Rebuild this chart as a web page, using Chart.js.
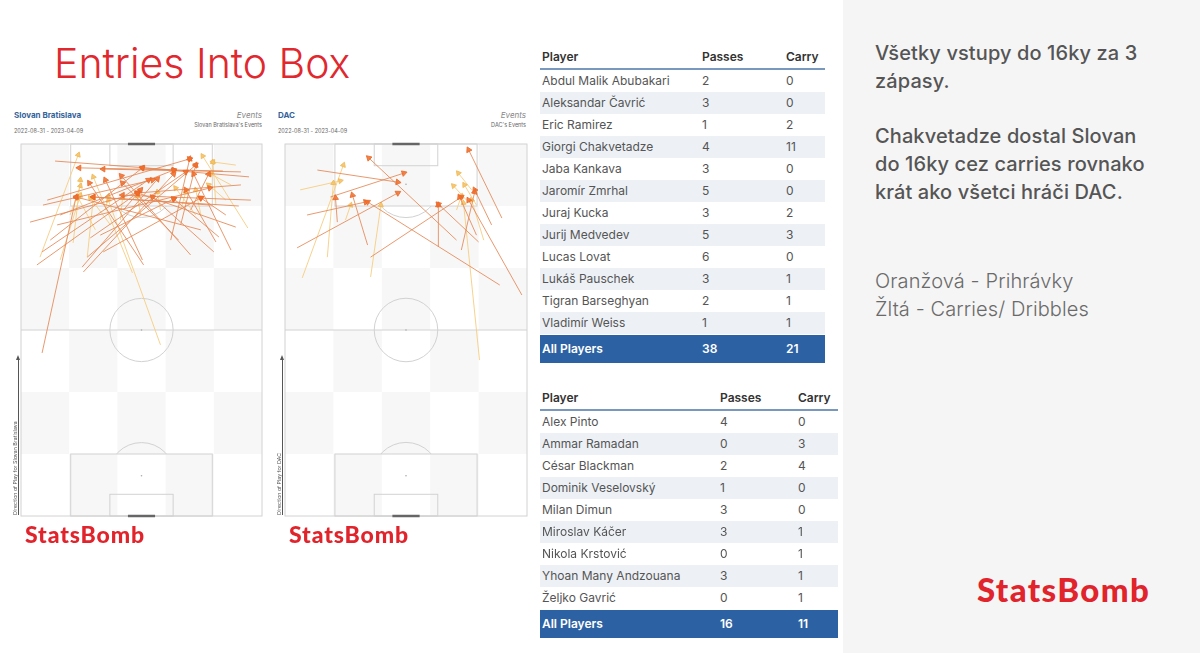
<!DOCTYPE html>
<html lang="sk">
<head>
<meta charset="UTF-8">
<script src="https://cdn.jsdelivr.net/npm/chart.js@4"></script>
<title>Entries Into Box</title>
<style>
  body { margin: 0; width: 1200px; height: 653px; position: relative; overflow: hidden; background: #fff; font-family: Inter, "Noto Sans", sans-serif; }
  .abs { position: absolute; }
  #side { left: 843px; top: 0; width: 357px; height: 653px; background: #f5f5f5; }
  #title { left: 54px; top: 38px; font-size: 41px; font-weight: 300; color: #e0282e; white-space: nowrap; }
  .team { font-size: 8px; font-weight: 700; color: #34639b; }
  .date { font-size: 5.5px; color: #666; }
  .ev { font-size: 8px; font-style: italic; color: #888; text-align: right; }
  .ev2 { font-size: 5.5px; color: #666; text-align: right; }
  .dir { font-size: 5.3px; color: #555; transform-origin: 0 0; transform: rotate(-90deg); white-space: nowrap; }
  .dirline { width: 0; border-left: 1px solid #555; }
  .dirline:before { content: ""; position: absolute; left: -3px; top: -4px; border-left: 2.5px solid transparent; border-right: 2.5px solid transparent; border-bottom: 5px solid #555; }
  .sb { font-family: Lato, sans-serif; font-weight: 900; color: #e1232b; white-space: nowrap; }
  .tbl { font-size: 12px; color: #555; }
  .tbl .hd { height: 22px; line-height: 22px; font-weight: 600; color: #333; border-bottom: 2px solid #7898bd; position: relative; }
  .tbl .row { height: 22px; line-height: 22px; position: relative; white-space: nowrap; }
  .tbl .row.alt { background: #edf1f6; }
  .tbl .tot { height: 28px; line-height: 28px; background: #2c62a4; color: #fff; font-weight: 600; position: relative; margin-top: 1px; }
  .tbl span { position: absolute; top: 0; }
  .note { left: 875px; font-size: 20px; color: #555; line-height: 28px; white-space: nowrap; letter-spacing: 0.1px; }
</style>
</head>
<body>
<div id="side" class="abs"></div>
<div id="title" class="abs">Entries Into Box</div>

<div class="abs team" style="left:14px;top:110px">Slovan Bratislava</div>
<div class="abs date" style="left:14px;top:128px">2022-08-31 - 2023-04-09</div>
<div class="abs ev" style="left:150px;top:110px;width:112px">Events</div>
<div class="abs ev2" style="left:150px;top:122px;width:112px">Slovan Bratislava's Events</div>

<div class="abs team" style="left:278px;top:110px">DAC</div>
<div class="abs date" style="left:278px;top:128px">2022-08-31 - 2023-04-09</div>
<div class="abs ev" style="left:414px;top:110px;width:112px">Events</div>
<div class="abs ev2" style="left:414px;top:122px;width:112px">DAC's Events</div>

<canvas id="slovanPitch" class="abs" style="left:16px;top:139px"></canvas>
<canvas id="dacPitch" class="abs" style="left:280px;top:139px"></canvas>

<div class="abs dirline" style="left:18px;top:359px;height:156px"></div>
<div class="abs dir" style="left:12px;top:515px">Direction of Play for Slovan Bratislava</div>
<div class="abs dirline" style="left:282px;top:359px;height:156px"></div>
<div class="abs dir" style="left:276px;top:515px">Direction of Play for DAC</div>

<div class="abs sb" style="left:25px;top:520px;font-size:23px;letter-spacing:0.9px">StatsBomb</div>
<div class="abs sb" style="left:289px;top:520px;font-size:23px;letter-spacing:0.9px">StatsBomb</div>
<div class="abs sb" style="left:977px;top:569px;font-size:33px;letter-spacing:1.4px">StatsBomb</div>

<div id="tbl1" class="abs tbl" style="left:540px;top:46px;width:285px"></div>
<div id="tbl2" class="abs tbl" style="left:540px;top:387px;width:298px"></div>

<div class="abs note" style="top:39px;font-weight:500">Všetky vstupy do 16ky za 3<br>zápasy.</div>
<div class="abs note" style="top:122px;font-weight:500">Chakvetadze dostal Slovan<br>do 16ky cez carries rovnako<br>krát ako všetci hráči DAC.</div>
<div class="abs note" style="top:267px;font-weight:300;color:#6a6a6a">Oranžová - Prihrávky<br>Žltá - Carries/ Dribbles</div>

<script>
// table data
const slovanPlayers = ['Abdul Malik Abubakari', 'Aleksandar Čavrić', 'Eric Ramirez', 'Giorgi Chakvetadze', 'Jaba Kankava', 'Jaromír Zmrhal', 'Juraj Kucka', 'Jurij Medvedev', 'Lucas Lovat', 'Lukáš Pauschek', 'Tigran Barseghyan', 'Vladimír Weiss'];
const slovanPasses = [2, 3, 1, 4, 3, 5, 3, 5, 6, 3, 2, 1];
const slovanCarries = [0, 0, 2, 11, 0, 0, 2, 3, 0, 1, 1, 1];
const dacPlayers = ['Alex Pinto', 'Ammar Ramadan', 'César Blackman', 'Dominik Veselovský', 'Milan Dimun', 'Miroslav Káčer', 'Nikola Krstović', 'Yhoan Many Andzouana', 'Željko Gavrić'];
const dacPasses = [4, 0, 2, 1, 3, 3, 0, 3, 0];
const dacCarries = [0, 3, 4, 0, 0, 1, 1, 1, 1];

// arrows in pitch units: [startLength, startWidth, endLength, endWidth], pitch 120 x 80
const slovanPassArrows = [
  [114.5, 11.3, 111.6, 50.7], [109.4, 75.7, 112.3, 40.3], [111.0, 73.0, 111.9, 27.3], [111.3, 67.0, 112.3, 19.3],
  [94.8, 3.0, 104.2, 38.7], [100.3, 7.3, 108.4, 43.7], [101.9, 8.7, 115.2, 56.0], [85.2, 7.0, 108.4, 42.3],
  [81.0, 5.3, 104.2, 38.7], [78.7, 20.7, 110.3, 50.7], [80.3, 20.3, 108.7, 45.3], [83.5, 22.0, 113.2, 58.0],
  [89.7, 23.0, 111.0, 54.7], [81.0, 40.7, 107.4, 22.7], [82.6, 40.3, 108.4, 28.0], [84.2, 56.3, 109.7, 33.3],
  [89.0, 52.3, 107.4, 33.7], [85.2, 64.0, 102.9, 43.7], [93.2, 71.3, 104.2, 38.7], [100.0, 72.3, 102.9, 24.0],
  [90.0, 65.7, 102.3, 50.7], [88.4, 64.7, 105.2, 54.7], [98.7, 56.3, 110.3, 62.3], [98.7, 34.0, 105.2, 39.7],
  [85.2, 27.3, 102.6, 59.7], [52.6, 7.0, 102.9, 18.3], [93.9, 12.0, 105.8, 62.7], [85.8, 69.7, 110.3, 57.3],
  [92.3, 59.7, 102.9, 18.3], [101.9, 76.3, 103.5, 33.7], [89.0, 49.7, 115.2, 56.0], [97.1, 13.0, 111.6, 50.7],
  [106.8, 73.0, 104.2, 38.7], [90.6, 26.3, 102.3, 50.7], [97.1, 68.0, 102.6, 59.7], [89.0, 9.7, 112.3, 40.3],
  [93.9, 53.0, 113.2, 58.0], [100.3, 63.0, 102.9, 24.0]
];
const slovanCarryArrows = [
  [88.1, 17.3, 108.4, 19.7], [83.5, 6.3, 116.5, 19.0], [55.2, 46.3, 101.9, 29.0], [78.4, 37.0, 109.4, 24.0],
  [92.9, 75.3, 116.1, 60.3], [100.3, 64.7, 114.2, 63.7], [97.1, 58.0, 105.8, 51.3], [93.9, 29.7, 102.6, 23.0],
  [92.3, 24.7, 102.6, 19.0], [82.6, 13.0, 103.5, 19.7], [97.1, 39.7, 103.2, 38.7], [98.7, 28.0, 103.2, 29.0],
  [101.9, 68.0, 106.8, 62.3], [98.7, 53.0, 104.5, 54.7], [97.1, 59.7, 105.2, 58.0], [98.7, 46.3, 104.5, 45.3],
  [95.5, 33.0, 102.6, 33.7], [106.8, 69.7, 110.3, 63.0], [113.2, 71.3, 114.2, 63.7], [83.5, 22.0, 102.6, 24.0],
  [97.1, 16.3, 106.5, 19.7]
];
const dacPassArrows = [
  [111.6, 10.7, 107.7, 37.3], [89.0, 56.7, 115.5, 27.7], [96.1, 71.7, 118.1, 60.7], [102.9, 15.0, 110.6, 39.3],
  [97.1, 7.3, 101.3, 26.7], [86.5, 4.0, 104.2, 37.3], [87.4, 27.3, 103.5, 22.3], [94.8, 17.3, 102.6, 16.7],
  [83.5, 28.3, 102.9, 58.3], [86.8, 50.7, 100.3, 50.7], [74.5, 71.0, 101.3, 27.3], [71.3, 78.3, 101.9, 60.7],
  [88.4, 64.0, 100.6, 50.7], [93.9, 68.3, 105.2, 62.7], [90.6, 63.3, 102.9, 57.7], [85.8, 58.3, 104.5, 62.7]
];
const dacCarryArrows = [
  [76.8, 5.7, 113.2, 19.3], [83.5, 14.0, 107.4, 16.0], [77.1, 28.3, 100.3, 31.7], [50.3, 64.3, 101.0, 59.0],
  [105.2, 61.7, 110.6, 57.3], [101.9, 60.0, 106.5, 55.7], [100.3, 63.3, 106.8, 59.3], [95.5, 20.0, 100.3, 21.7],
  [89.0, 65.7, 101.9, 61.7], [105.2, 5.0, 108.1, 18.3], [98.7, 56.7, 103.2, 58.3]
];

function buildTable(id, players, passes, carries, col2, col3) {
  const el = document.getElementById(id);
  let html = '<div class="hd"><span style="left:2px">Player</span><span style="left:' + col2 + 'px">Passes</span><span style="left:' + col3 + 'px">Carry</span></div>';
  players.forEach((p, i) => {
    html += '<div class="row' + (i % 2 ? ' alt' : '') + '"><span style="left:2px">' + p + '</span><span style="left:' + col2 + 'px">' + passes[i] + '</span><span style="left:' + col3 + 'px">' + carries[i] + '</span></div>';
  });
  const sumP = passes.reduce((a, b) => a + b, 0);
  const sumC = carries.reduce((a, b) => a + b, 0);
  html += '<div class="tot"><span style="left:2px">All Players</span><span style="left:' + col2 + 'px">' + sumP + '</span><span style="left:' + col3 + 'px">' + sumC + '</span></div>';
  el.innerHTML = html;
}
buildTable('tbl1', slovanPlayers, slovanPasses, slovanCarries, 162, 246);
buildTable('tbl2', dacPlayers, dacPasses, dacCarries, 180, 258);

// pitch background + markings
const pitchPlugin = {
  id: 'pitch',
  beforeDatasetsDraw(chart) {
    const { ctx, chartArea: a, scales: { x, y } } = chart;
    const X = v => x.getPixelForValue(v), Y = v => y.getPixelForValue(v);
    const ux = X(1) - X(0);
    ctx.save();
    ctx.fillStyle = '#fff';
    ctx.fillRect(a.left, a.top, a.right - a.left, a.bottom - a.top);
    // checker cells 5 x 6
    ctx.fillStyle = '#f7f7f7';
    for (let r = 0; r < 6; r++) {
      for (let c = 0; c < 5; c++) {
        if ((r + c) % 2 === 0) {
          const x0 = X(c * 16), x1 = X((c + 1) * 16);
          const y0 = Y(120 - r * 20), y1 = Y(120 - (r + 1) * 20);
          ctx.fillRect(x0, y0, x1 - x0, y1 - y0);
        }
      }
    }
    ctx.strokeStyle = '#d2d2d2';
    ctx.lineWidth = 1;
    const rect = (w0, l0, w1, l1) => ctx.strokeRect(X(w0), Y(l1), X(w1) - X(w0), Y(l0) - Y(l1));
    rect(0, 0, 80, 120);
    ctx.beginPath(); ctx.moveTo(X(0), Y(60)); ctx.lineTo(X(80), Y(60)); ctx.stroke();
    ctx.beginPath(); ctx.arc(X(40), Y(60), 10.5 * ux, 0, Math.PI * 2); ctx.stroke();
    rect(16.5, 100, 63.5, 120); rect(29.5, 113, 50.5, 120);
    rect(16.5, 0, 63.5, 20); rect(29.5, 0, 50.5, 7);
    // D arcs
    ctx.save(); ctx.beginPath(); ctx.rect(a.left, a.top, a.right - a.left, Y(20) - a.top); ctx.clip();
    ctx.beginPath(); ctx.arc(X(40), Y(13), 11 * ux, 0, Math.PI * 2); ctx.stroke(); ctx.restore();
    ctx.save(); ctx.beginPath(); ctx.rect(a.left, Y(100), a.right - a.left, a.bottom - Y(100)); ctx.clip();
    ctx.beginPath(); ctx.arc(X(40), Y(107), 11 * ux, 0, Math.PI * 2); ctx.stroke(); ctx.restore();
    ctx.fillStyle = '#aaa';
    [60, 13, 107].forEach(l => { ctx.beginPath(); ctx.arc(X(40), Y(l), 0.8, 0, Math.PI * 2); ctx.fill(); });
    // goals
    ctx.strokeStyle = '#666'; ctx.lineWidth = 2.5;
    ctx.beginPath(); ctx.moveTo(X(35.5), Y(120)); ctx.lineTo(X(44.5), Y(120)); ctx.stroke();
    ctx.beginPath(); ctx.moveTo(X(35.5), Y(0)); ctx.lineTo(X(44.5), Y(0)); ctx.stroke();
    ctx.restore();
  }
};

function segments(arrows) {
  return arrows.flatMap(a => [{ x: a[1], y: a[0] }, { x: a[3], y: a[2] }, { x: a[3], y: null }]);
}
function heads(arrows) {
  return arrows.map(a => ({ x: a[3], y: a[2] }));
}
function headAngle(arrows) {
  return c => {
    const a = arrows[c.dataIndex];
    const sx = c.chart.scales.x, sy = c.chart.scales.y;
    if (!a || !sx || !sy) return 0;
    const dx = sx.getPixelForValue(a[3]) - sx.getPixelForValue(a[1]);
    const dy = sy.getPixelForValue(a[2]) - sy.getPixelForValue(a[0]);
    return Math.atan2(dx, -dy) * 180 / Math.PI;
  };
}

function drawPitch(canvasId, width, passArrows, carryArrows) {
  const cv = document.getElementById(canvasId);
  cv.width = width; cv.height = 382;
  cv.style.width = width + 'px'; cv.style.height = '382px';
  new Chart(cv.getContext('2d'), {
    type: 'scatter',
    data: {
      datasets: [
        {
          type: 'line', data: segments(carryArrows), borderColor: 'rgba(246,205,130,0.9)', borderWidth: 1,
          pointRadius: 0, spanGaps: false, order: 4
        },
        {
          type: 'scatter', data: heads(carryArrows), pointStyle: 'triangle', radius: 3,
          backgroundColor: 'rgba(245,195,100,0.9)', borderColor: 'rgba(240,185,90,0.9)', borderWidth: 1,
          rotation: headAngle(carryArrows), order: 3
        },
        {
          type: 'line', data: segments(passArrows), borderColor: 'rgba(228,135,85,0.85)', borderWidth: 1,
          pointRadius: 0, spanGaps: false, order: 2
        },
        {
          type: 'scatter', data: heads(passArrows), pointStyle: 'triangle', radius: 3.3,
          backgroundColor: 'rgba(238,110,45,0.85)', borderColor: 'rgba(235,105,40,0.85)', borderWidth: 1,
          rotation: headAngle(passArrows), order: 1
        }
      ]
    },
    options: {
      responsive: false,
      animation: false,
      layout: { padding: 5 },
      plugins: { legend: { display: false }, tooltip: { enabled: false } },
      scales: {
        x: { type: 'linear', min: 0, max: 80, display: false },
        y: { type: 'linear', min: 0, max: 120, display: false }
      }
    },
    plugins: [pitchPlugin]
  });
}

drawPitch('slovanPitch', 251, slovanPassArrows, slovanCarryArrows);
drawPitch('dacPitch', 252, dacPassArrows, dacCarryArrows);
</script>
</body>
</html>
